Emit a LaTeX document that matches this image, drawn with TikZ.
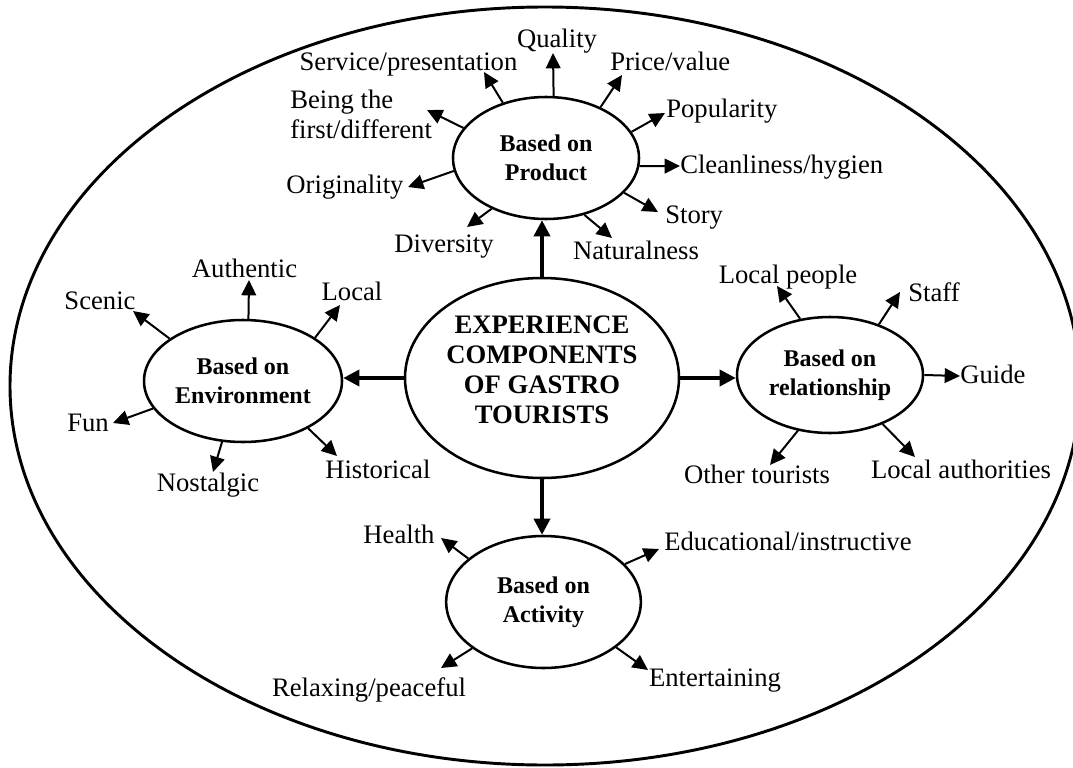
\documentclass[tikz,border=0pt]{standalone}
\usepackage{fontspec}
\setmainfont{Liberation Serif}
\usetikzlibrary{shapes.geometric,arrows.meta}

\begin{document}
\begin{tikzpicture}[
    x=0.75pt, y=-0.75pt,
    core/.style={ellipse, draw, line width=1.9pt, inner sep=0pt, align=center, text depth=12pt, minimum width=205.5pt, minimum height=150pt, font=\fontsize{20}{22.5}\selectfont\bfseries},
    hub/.style={ellipse, draw, line width=1.9pt, inner sep=0pt, align=center, font=\fontsize{18}{21.75}\selectfont\bfseries},
    item/.style={inner sep=0pt, font=\fontsize{20}{22.5}\selectfont},
    arrow/.style={-{Triangle[length=11.5pt,width=11pt]}, line width=1.5pt},
    mainarrow/.style={-{Triangle[length=12pt,width=12pt]}, line width=2.6pt}
]
\useasboundingbox (0,0) rectangle (1073,767);

% outer frame
\draw[line width=2.2pt] (545,386) ellipse [x radius=535, y radius=379];

% centre and the four groups
\node[core] (core) at (542,378) {EXPERIENCE\\COMPONENTS\\OF GASTRO\\TOURISTS};
\node[hub, minimum width=139.5pt, minimum height=91.5pt] (prod) at (546,158) {Based on\\Product};
\node[hub, minimum width=148.5pt, minimum height=91.5pt] (env) at (243,381) {Based on\\Environment};
\node[hub, minimum width=139.5pt, minimum height=87pt] (rel) at (830,375) {Based on\\relationship};
\node[hub, minimum width=146pt, minimum height=99pt] (act) at (543.5,602) {Based on\\Activity};

% product items
\node[item, anchor=base] (quality) at (557,48) {Quality};
\node[item, anchor=base] (service) at (408.5,70) {Service/presentation};
\node[item, anchor=base west] (price) at (610,70) {Price/value};
\node[item, anchor=north west, align=left] (first) at (290,90) {Being the\\first/different};
\node[item, anchor=base west] (popular) at (666,117) {Popularity};
\node[item, anchor=base west] (clean) at (680,173) {Cleanliness/hygien};
\node[item, anchor=base west] (story) at (665,223) {Story};
\node[item, anchor=base] (natural) at (636,259) {Naturalness};
\node[item, anchor=base] (divers) at (444,252) {Diversity};
\node[item, anchor=base] (orig) at (345,193) {Originality};

% environment items
\node[item, anchor=base] (authentic) at (244.5,277) {Authentic};
\node[item, anchor=base] (scenic) at (100,309) {Scenic};
\node[item, anchor=base] (local) at (352,300) {Local};
\node[item, anchor=base] (fun) at (88,431) {Fun};
\node[item, anchor=base] (nostalgic) at (208,491) {Nostalgic};
\node[item, anchor=base west] (historic) at (325,478) {Historical};

% relationship items
\node[item, anchor=base] (locpeople) at (788,283) {Local people};
\node[item, anchor=base west] (staff) at (908,301) {Staff};
\node[item, anchor=base west] (guide) at (960,383) {Guide};
\node[item, anchor=base] (others) at (757,483) {Other tourists};
\node[item, anchor=base] (authority) at (961,478) {Local authorities};

% activity items
\node[item, anchor=base] (health) at (399,543) {Health};
\node[item, anchor=base west] (educ) at (664,550) {Educational/instructive};
\node[item, anchor=base] (relax) at (369,696) {Relaxing/peaceful};
\node[item, anchor=base] (entertain) at (715,686) {Entertaining};

% arrow tips
\coordinate (quality-tip) at (553,53);
\coordinate (service-tip) at (484,72);
\coordinate (price-tip) at (622,75);
\coordinate (first-tip) at (427,110);
\coordinate (popular-tip) at (665,113);
\coordinate (clean-tip) at (680,166);
\coordinate (story-tip) at (658,212);
\coordinate (natural-tip) at (612,238);
\coordinate (divers-tip) at (467,227);
\coordinate (orig-tip) at (408,187);
\coordinate (authentic-tip) at (249,280);
\coordinate (scenic-tip) at (133,311);
\coordinate (local-tip) at (340,305);
\coordinate (fun-tip) at (113,423);
\coordinate (nostalgic-tip) at (213,472);
\coordinate (historic-tip) at (337,456);
\coordinate (locpeople-tip) at (777,286);
\coordinate (staff-tip) at (900,292);
\coordinate (guide-tip) at (960,376);
\coordinate (others-tip) at (770,465);
\coordinate (authority-tip) at (915,457);
\coordinate (health-tip) at (441,538);
\coordinate (educ-tip) at (659,549);
\coordinate (relax-tip) at (441,668);
\coordinate (entertain-tip) at (648,670);

% main arrows
\draw[mainarrow] (core.north) -- (core.north |- prod.south);
\draw[mainarrow] (core.west) -- (core.west -| env.east);
\draw[mainarrow] (core.east) -- (core.east -| rel.west);
\draw[mainarrow] (core.south) -- (core.south |- act.north);

% product arrows
\draw[arrow] (prod.83) -- (quality-tip);
\draw[arrow] (prod.128) -- (service-tip);
\draw[arrow] (prod.43) -- (price-tip);
\draw[arrow] (prod.160) -- (first-tip);
\draw[arrow] (prod.17) -- (popular-tip);
\draw[arrow] (prod.-5) -- (clean-tip);
\draw[arrow] (prod.-24) -- (story-tip);
\draw[arrow] (prod.-56) -- (natural-tip);
\draw[arrow] (prod.-137) -- (divers-tip);
\draw[arrow] (prod.-172) -- (orig-tip);

% environment arrows
\draw[arrow] (env.85) -- (authentic-tip);
\draw[arrow] (env.150) -- (scenic-tip);
\draw[arrow] (env.31) -- (local-tip);
\draw[arrow] (env.197) -- (fun-tip);
\draw[arrow] (env.251) -- (nostalgic-tip);
\draw[arrow] (env.-36) -- (historic-tip);

% relationship arrows
\draw[arrow] (rel.118) -- (locpeople-tip);
\draw[arrow] (rel.46) -- (staff-tip);
\draw[arrow] (rel.0) -- (guide-tip);
\draw[arrow] (rel.-120) -- (others-tip);
\draw[arrow] (rel.-43) -- (authority-tip);

% activity arrows
\draw[arrow] (act.150) -- (health-tip);
\draw[arrow] (act.25) -- (educ-tip);
\draw[arrow] (act.-147) -- (relax-tip);
\draw[arrow] (act.-32) -- (entertain-tip);

\end{tikzpicture}
\end{document}
